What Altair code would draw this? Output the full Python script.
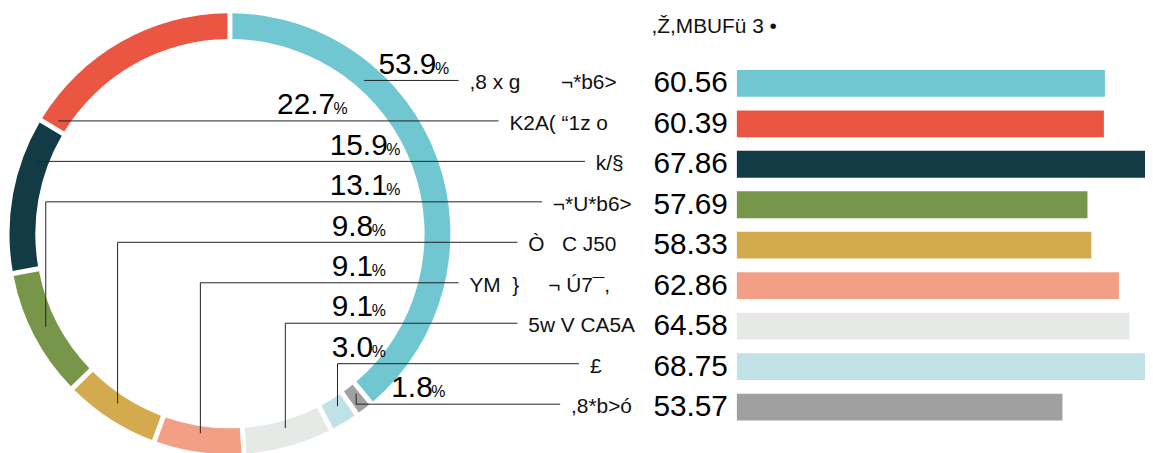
import math
import altair as alt
import pandas as pd

NB = "\u00a0"

# ---------------- data ----------------
categories = [
    ",8" + NB + "x" + NB + "g" + NB * 7 + "¬*b6>",
    "K2A(" + NB + "“1z" + NB + "o",
    "k/§",
    "¬*U*b6>",
    NB + "Ò" + NB * 3 + "C" + NB + "J50",
    NB + "YM" + NB * 2 + "}" + NB * 5 + "¬" + NB + "Ú7¯,",
    "5w" + NB + "V" + NB + "CA5A",
    NB + "£",
    ",8*b>ó",
]
shares = [53.9, 22.7, 15.9, 13.1, 9.8, 9.1, 9.1, 3.0, 1.8]
values = [60.56, 60.39, 67.86, 57.69, 58.33, 62.86, 64.58, 68.75, 53.57]
colors = ["#70C6D1", "#EA5642", "#133B46", "#77964A", "#D4AA4E",
          "#F29F85", "#E5EAE6", "#C0E2E6", "#A0A0A0"]
title_text = ",Ž,MBUFü" + NB + "3" + NB + "•"

# ---------------- layout ----------------
W, H = 1145, 445
CX, CY = 223.5, 225.7
R_OUT, R_IN, R_MID = 222, 196, 209
ROW0, STEP = 69.3, 42.0
LINE_DY = -3
PCT_DY = -10
line_end = [453.7, 494, 581, 537.7, 513, 453.7, 513, 575, 556]
pct_x = [373, 271, 324, 324, 326, 326, 326, 326, 386]
LABEL_GAP = 11
BAR_X0, PX_PER_UNIT, BAR_MAX = 734, 6.12, 70
FONT = "Liberation Sans"

n = len(categories)
rows = list(range(n))
# ring runs counter-clockwise in descending order -> clockwise sequence
arc_order = [0 if i == 0 else n - i for i in rows]
total = sum(shares)
seq = sorted(rows, key=lambda i: arc_order[i])
start, end = {}, {}
acc = 0.0
for i in seq:
    start[i] = acc
    acc += shares[i] / total * 360
    end[i] = acc


def to_row(py):
    return (py - ROW0) / STEP


segs = []
for i in rows:
    ly = ROW0 + STEP * i + LINE_DY
    dy = ly - CY
    anchor = None
    if abs(dy) < R_MID:
        dx = math.sqrt(R_MID ** 2 - dy ** 2)
        for sx in (1, -1):
            ang = math.degrees(math.atan2(sx * dx, -dy)) % 360
            if start[i] + 1 <= ang <= end[i] - 1:
                anchor = (CX + sx * dx, ly)
                break
    if anchor is None:
        mid = math.radians((start[i] + end[i]) / 2)
        ax = CX + R_MID * math.sin(mid)
        ay = CY - R_MID * math.cos(mid)
        segs.append(dict(x=ax, x2=line_end[i], y=to_row(ly), y2=to_row(ly)))
        segs.append(dict(x=ax, x2=ax, y=to_row(ly), y2=to_row(ay)))
    else:
        segs.append(dict(x=anchor[0], x2=line_end[i], y=to_row(ly), y2=to_row(ly)))
seg_df = pd.DataFrame(segs)


def num_width(s, size):
    return size * sum(0.278 if c == "." else 0.556 for c in s)


pct_txt = [f"{v:.1f}" for v in shares]
df = pd.DataFrame({
    "row": rows,
    "cat": categories,
    "share": shares,
    "value": values,
    "arc_order": arc_order,
    "pct": pct_txt,
    "pct_x": pct_x,
    "perc_x": [pct_x[i] + num_width(pct_txt[i], 30) - 1.5 for i in rows],
    "pct_row": [i + PCT_DY / STEP for i in rows],
    "label_x": [e + LABEL_GAP for e in line_end],
    "val_txt": [f"{v:.2f}" for v in values],
})

px_x = alt.Scale(domain=[0, W], range=[0, W], nice=False, zero=False)
row_y = alt.Scale(domain=[0, n - 1], range=[ROW0, ROW0 + STEP * (n - 1)], nice=False, zero=False)
color_scale = alt.Scale(domain=rows, range=colors)

base = alt.Chart(df)

ring = base.mark_arc(x=CX, y=CY, radius=R_OUT, radius2=R_IN, padAngle=0.017).encode(
    theta=alt.Theta("share:Q", stack=True),
    order=alt.Order("arc_order:Q"),
    color=alt.Color("row:N", scale=color_scale, legend=None),
)

leaders = alt.Chart(seg_df).mark_rule(color="#222222", strokeWidth=1).encode(
    x=alt.X("x:Q", scale=px_x, axis=None),
    x2="x2:Q",
    y=alt.Y("y:Q", scale=row_y, axis=None),
    y2="y2:Q",
)

pct_num = base.mark_text(align="left", baseline="alphabetic", fontSize=30, font=FONT, color="#000000").encode(
    x=alt.X("pct_x:Q", scale=px_x, axis=None),
    y=alt.Y("pct_row:Q", scale=row_y, axis=None),
    text="pct:N",
)
pct_sign = base.mark_text(align="left", baseline="alphabetic", fontSize=16, font=FONT, color="#000000", text="%").encode(
    x=alt.X("perc_x:Q", scale=px_x, axis=None),
    y=alt.Y("pct_row:Q", scale=row_y, axis=None),
)

cat_labels = base.mark_text(align="left", baseline="middle", fontSize=21, font=FONT, color="#111111").encode(
    x=alt.X("label_x:Q", scale=px_x, axis=None),
    y=alt.Y("row:Q", scale=row_y, axis=None),
    text="cat:N",
)

bars = base.mark_bar(orient="horizontal", size=27, clip=True).encode(
    x=alt.X("value:Q", stack=None, axis=None,
            scale=alt.Scale(domain=[0, BAR_MAX], range=[BAR_X0, BAR_X0 + BAR_MAX * PX_PER_UNIT], nice=False)),
    y=alt.Y("row:Q", scale=row_y, axis=None),
    color=alt.Color("row:N", scale=color_scale, legend=None),
)

val_labels = base.mark_text(align="right", baseline="middle", fontSize=30, font=FONT, color="#000000", dx=-9).encode(
    x=alt.value(BAR_X0),
    y=alt.Y("row:Q", scale=row_y, axis=None),
    text="val_txt:N",
)

title = alt.Chart(pd.DataFrame({"t": [title_text]})).mark_text(
    align="left", baseline="alphabetic", fontSize=21, font=FONT, color="#111111"
).encode(x=alt.value(648), y=alt.value(24), text="t:N")

chart = alt.layer(ring, leaders, pct_num, pct_sign, cat_labels, bars, val_labels, title).resolve_scale(
    x="independent"
).properties(
    width=W, height=H, padding=0, autosize=alt.AutoSizeParams(type="none")
).configure_view(stroke=None)

chart.save("out.html", embed_options={"renderer": "svg", "actions": False})
